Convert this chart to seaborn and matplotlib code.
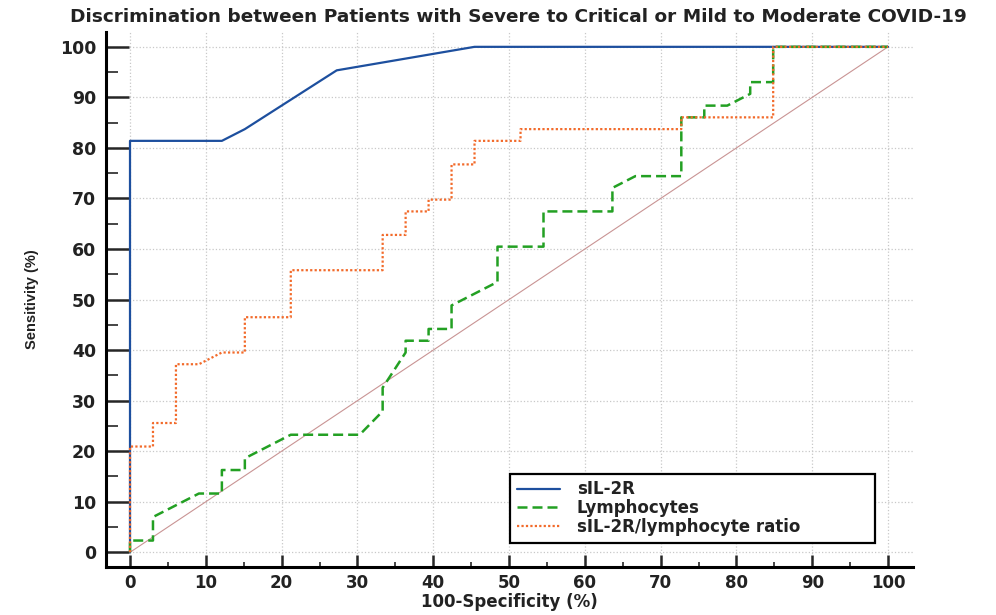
import numpy as np
import matplotlib
matplotlib.use("Agg")
import matplotlib.pyplot as plt
import pandas as pd
import seaborn as sns
from matplotlib.ticker import MultipleLocator

# ROC curve points (100-Specificity %, Sensitivity %)
sil2r_x = [0, 0, 12.12, 15.15, 27.27, 45.45, 100]
sil2r_y = [0, 81.40, 81.40, 83.72, 95.35, 100, 100]

lymph_x = [0, 0, 3.03, 3.03, 9.09, 12.12, 12.12, 15.15, 15.15, 21.21, 30.30, 33.33, 33.33,
           36.36, 36.36, 39.39, 39.39, 42.42, 42.42, 48.48, 48.48, 54.55, 54.55, 63.64,
           63.64, 66.67, 72.73, 72.73, 75.76, 75.76, 78.79, 81.82, 81.82, 84.85, 84.85, 100]
lymph_y = [0, 2.33, 2.33, 6.98, 11.63, 11.63, 16.28, 16.28, 18.60, 23.26, 23.26, 27.91, 32.56,
           39.53, 41.86, 41.86, 44.19, 44.19, 48.84, 53.49, 60.47, 60.47, 67.44, 67.44,
           72.09, 74.42, 74.42, 86.05, 86.05, 88.37, 88.37, 90.70, 93.02, 93.02, 100, 100]

ratio_x = [0, 0, 3.03, 3.03, 6.06, 6.06, 9.09, 12.12, 15.15, 15.15, 21.21, 21.21, 33.33, 33.33,
           36.36, 36.36, 39.39, 39.39, 42.42, 42.42, 45.45, 45.45, 51.52, 51.52, 72.73, 72.73,
           84.85, 84.85, 100]
ratio_y = [0, 20.93, 20.93, 25.58, 25.58, 37.21, 37.21, 39.53, 39.53, 46.51, 46.51, 55.81, 55.81,
           62.79, 62.79, 67.44, 67.44, 69.77, 69.77, 76.74, 76.74, 81.40, 81.40, 83.72, 83.72,
           86.05, 86.05, 100, 100]

diag = [0, 100]

sns.set_style("white")
plt.rcParams["font.family"] = ["DejaVu Sans"]

fig = plt.figure(figsize=(9.96, 6.15), dpi=100)
ax = fig.add_axes([0.1064, 0.0785, 0.8103, 0.870])

sns.lineplot(x=diag, y=diag, ax=ax, color="#c99494", linewidth=0.8, sort=False, estimator=None)
sns.lineplot(x=sil2r_x, y=sil2r_y, ax=ax, color="#1d4f9e", linewidth=1.6,
             sort=False, estimator=None, label="sIL-2R")
sns.lineplot(x=lymph_x, y=lymph_y, ax=ax, color="#23a023", linewidth=1.8,
             sort=False, estimator=None, label="Lymphocytes")
sns.lineplot(x=ratio_x, y=ratio_y, ax=ax, color="#f26a2a", linewidth=1.6,
             sort=False, estimator=None, label="sIL-2R/lymphocyte ratio")
ax.lines[2].set_dashes([4, 2])
ax.lines[3].set_dashes([1, 1])

ax.set_xlim(-3.17, 103.3)
ax.set_ylim(-2.85, 103.0)
ax.xaxis.set_major_locator(MultipleLocator(10))
ax.xaxis.set_minor_locator(MultipleLocator(5))
ax.yaxis.set_major_locator(MultipleLocator(10))
ax.yaxis.set_minor_locator(MultipleLocator(5))

ax.grid(True, which="major", color="#c8c8c8", linestyle=":", linewidth=0.9)
for side in ["top", "right"]:
    ax.spines[side].set_visible(False)
for side in ["left", "bottom"]:
    ax.spines[side].set_linewidth(2.2)
    ax.spines[side].set_color("black")

ax.tick_params(axis="x", which="major", direction="in", length=8.5, width=1.8, pad=5,
               labelsize=12, bottom=True)
ax.tick_params(axis="x", which="minor", direction="in", length=3.6, width=1.2, bottom=True)
ax.tick_params(axis="y", which="major", direction="in", length=16.5, width=1.8, pad=7,
               labelsize=12.5, left=True)
ax.tick_params(axis="y", which="minor", direction="in", length=8.5, width=1.2, left=True)
for lab in ax.get_xticklabels() + ax.get_yticklabels():
    lab.set_fontweight("bold")
    lab.set_color("#222222")

ax.set_xlabel("100-Specificity (%)", fontsize=12, fontweight="bold", color="#222222", labelpad=1)
ax.set_ylabel("Sensitivity (%)", fontsize=10.5, fontweight="bold", color="#222222",
              family=["Liberation Sans"], labelpad=15)

fig.suptitle("Discrimination between Patients with Severe to Critical or Mild to Moderate COVID-19",
             x=0.52, y=0.972, va="center", fontsize=13.3, fontweight="bold", color="#222222")

leg = ax.legend(loc="lower left", bbox_to_anchor=(0.5006, 0.0448, 0.452, 0.121), mode="expand",
                borderaxespad=0, fancybox=False, framealpha=1, edgecolor="black",
                handlelength=2.6, handletextpad=1.0, labelspacing=0.05, borderpad=0.4,
                prop={"weight": "bold", "size": 12})
leg.get_frame().set_linewidth(1.6)
for t in leg.get_texts():
    t.set_color("#222222")

fig.savefig("out.png", dpi=100)
